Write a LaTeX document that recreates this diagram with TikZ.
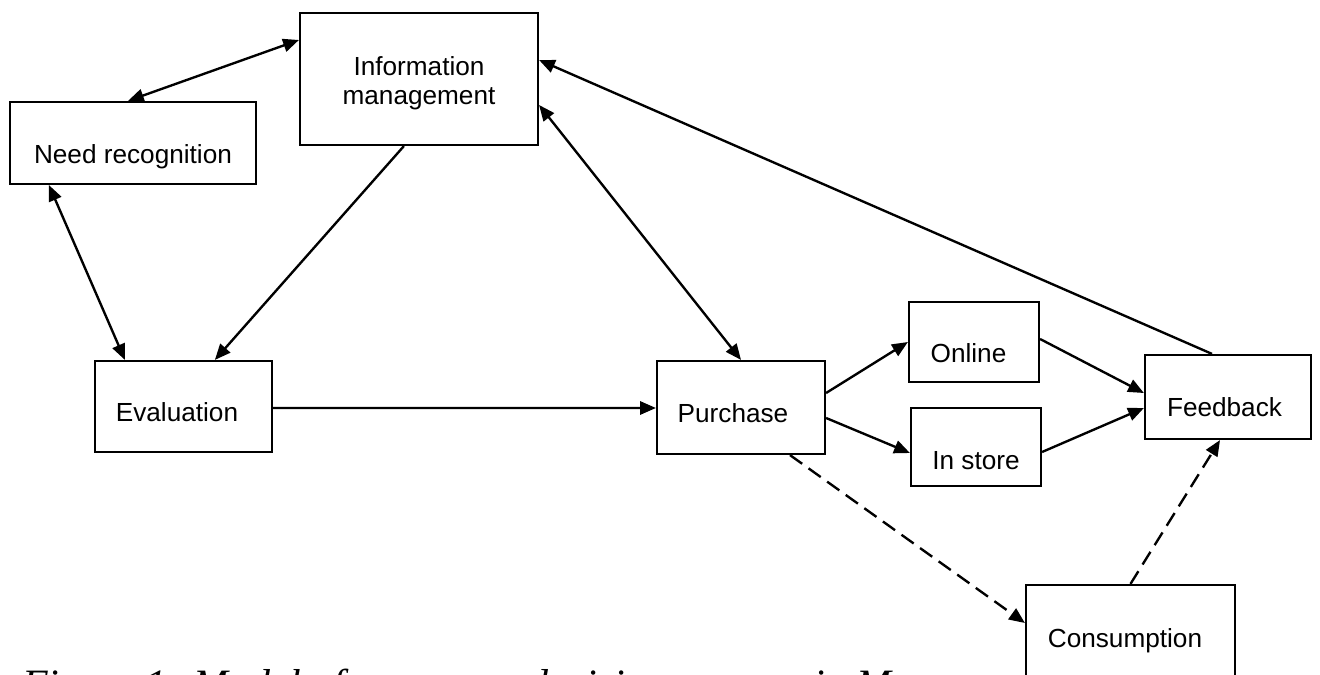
\documentclass[tikz,border=0pt]{standalone}
\usepackage{fontspec}
\setmainfont{Liberation Sans}
\newfontfamily\capfont{Liberation Serif}
\usetikzlibrary{arrows.meta,calc}
\newcommand\boxtext[3]{\raisebox{#1}[0pt][0pt]{#3\hspace*{#2}}}
\begin{document}
\begin{tikzpicture}[x=0.02cm, y=-0.02cm,
  box/.style={draw, line width=1.25pt, inner sep=0pt, font=\fontsize{14.9}{16.5}\selectfont},
  tip/.style={Triangle[length=9pt,width=7.5pt]},
  link/.style={line width=1.35pt, -{Triangle[length=9pt,width=7.5pt]}},
  both/.style={line width=1.35pt, {Triangle[length=9pt,width=7.5pt]}-{Triangle[length=9pt,width=7.5pt]}},
  dashlink/.style={link, dash pattern=on 8.5pt off 4.5pt}]
\useasboundingbox (0,0) rectangle (1320,675);
\clip (0,0) rectangle (1320,675);
\fill[white] (0,0) rectangle (1320,675);

\node[box, minimum width=4.92cm, minimum height=1.64cm] (need) at (133,143) {\boxtext{-0.42cm}{0pt}{Need recognition}};
\node[box, minimum width=4.76cm, minimum height=2.64cm] (info) at (419,79) {\boxtext{0.06cm}{0pt}{\begin{tabular}[t]{@{}c@{}}Information\\management\end{tabular}}};
\node[box, minimum width=3.54cm, minimum height=1.82cm] (eval) at (183.5,406.5) {\boxtext{-0.31cm}{0.26cm}{Evaluation}};
\node[box, minimum width=3.36cm, minimum height=1.86cm] (pur) at (741,407.5) {\boxtext{-0.31cm}{0.32cm}{Purchase}};
\node[box, minimum width=2.6cm, minimum height=1.6cm] (onl) at (974,342) {\boxtext{-0.42cm}{0.22cm}{Online}};
\node[box, minimum width=2.6cm, minimum height=1.56cm] (sto) at (976,447) {\boxtext{-0.46cm}{0pt}{In store}};
\node[box, minimum width=3.32cm, minimum height=1.68cm] (fb) at (1228,397) {\boxtext{-0.40cm}{0.14cm}{Feedback}};
\node[box, minimum width=4.18cm, minimum height=2.3cm] (con) at (1130.5,642.5) {\boxtext{-0.11cm}{0.22cm}{Consumption}};

\node[anchor=base west, inner sep=0pt, font=\capfont\itshape\fontsize{23.8}{28}\selectfont] (cap) at (22,699) {Figure 1: Model of consumer decision process in M};

\draw[both] ([xshift=-0.1cm]need.north) -- ([yshift=0.78cm]info.west);
\draw[both] ([xshift=0.8cm]need.south west) -- ([xshift=0.62cm]eval.north west);
\draw[link] ([xshift=2.1cm]info.south west) -- ([xshift=2.42cm]eval.north west);
\draw[link] ([yshift=-0.03cm]eval.east) -- ([yshift=-0.01cm]pur.west);
\draw[both] ([yshift=-0.52cm]info.east) -- (pur.north);
\draw[link] ([xshift=-0.32cm]fb.north) -- ([yshift=0.38cm]info.east);
\draw[link] ([yshift=0.29cm]pur.east) -- (onl.west);
\draw[link] ([yshift=-0.21cm]pur.east) -- ([yshift=-0.12cm]sto.west);
\draw[link] ([yshift=0.06cm]onl.east) -- ([yshift=0.08cm]fb.west);
\draw[link] ([yshift=-0.1cm]sto.east) -- ([yshift=-0.22cm]fb.west);
\draw[dashlink] ([xshift=0.98cm]pur.south) -- ([yshift=0.39cm]con.west);
\draw[dashlink] (con.north) -- ([xshift=-0.16cm]fb.south);
\end{tikzpicture}
\end{document}
